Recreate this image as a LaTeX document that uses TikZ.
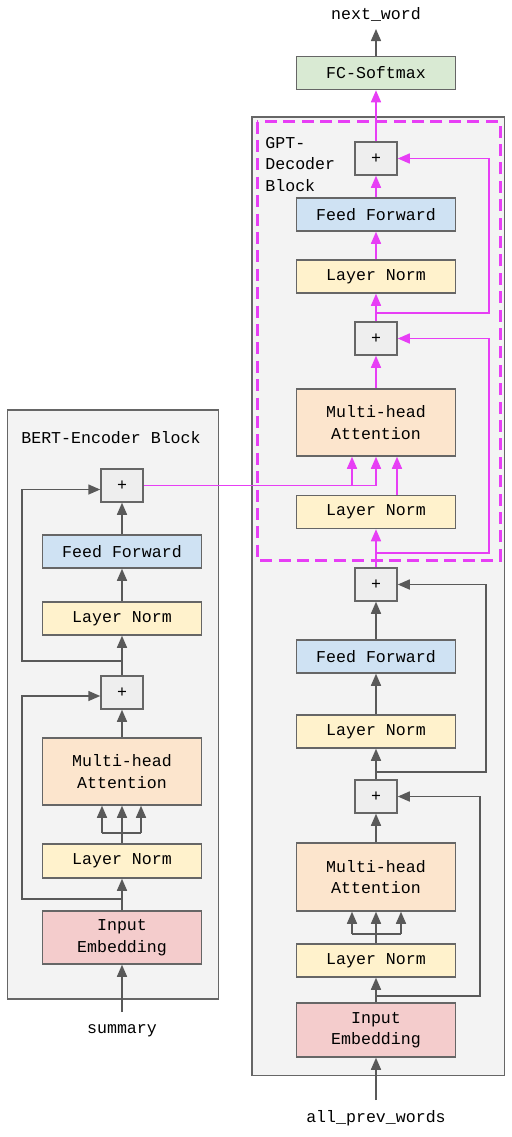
\documentclass[tikz,border=0pt]{standalone}
\usepackage{fontspec}
\setmonofont{Liberation Mono}
\usetikzlibrary{arrows.meta}
\definecolor{edge}{HTML}{595959}
\definecolor{boxline}{HTML}{666666}
\definecolor{panelfill}{HTML}{F3F3F3}
\definecolor{plusfill}{HTML}{EEEEEE}
\definecolor{ffblue}{HTML}{CFE2F3}
\definecolor{lnyellow}{HTML}{FFF2CC}
\definecolor{mhaorange}{HTML}{FCE5CD}
\definecolor{iepink}{HTML}{F4CCCC}
\definecolor{fcgreen}{HTML}{D9EAD3}
\definecolor{hotpink}{RGB}{231,62,245}
\begin{document}
\begin{tikzpicture}[x=0.5pt,y=-0.5pt,
	font=\ttfamily\fontsize{8.3}{10.7}\selectfont,
	panel/.style={draw=boxline,fill=panelfill,line width=0.8pt},
	box/.style={draw=boxline,line width=0.75pt,minimum width=79.7pt,minimum height=16.5pt,inner sep=0pt,align=center},
	sum/.style={box,fill=plusfill,minimum width=21pt},
	arr/.style={draw=edge,line width=0.75pt,-{Triangle[length=6pt,width=5pt]}},
	hot/.style={arr,draw=hotpink}]
	\useasboundingbox (0,0) rectangle (512,1137);
	\draw[panel] (7.3,410) rectangle (218.3,999);
	\draw[panel] (252,117) rectangle (504.5,1075.5);
	\draw[hotpink,line width=1.5pt,dash pattern=on 6pt off 3.2pt] (257,121.5) rectangle (500,560);
	\path (376,313) coordinate (s1)
	(376,553) coordinate (s2)
	(376,772) coordinate (s3)
	(376,996) coordinate (s4)
	(122,661) coordinate (s5)
	(122,899) coordinate (s6)
	(376,29) coordinate (out1)
	(376,1100) coordinate (in2)
	(122,1012) coordinate (in1);
	% decoder column
	\foreach \n/\y/\h/\c/\t in {FC/73/16.5/fcgreen/FC-Softmax,FF1/214.5/16.5/ffblue/Feed Forward,LN1/276.5/16.5/lnyellow/Layer Norm,MHA1/422.5/33.5/mhaorange/{Multi-head\\Attention},LN2/512/16.5/lnyellow/Layer Norm,FF2/656.5/16.5/ffblue/Feed Forward,LN3/731.5/16.5/lnyellow/Layer Norm,MHA2/877/34/mhaorange/{Multi-head\\Attention},LN4/960.5/16.5/lnyellow/Layer Norm,IE2/1030/27/iepink/{Input\\Embedding}}{
	\node[box,fill=\c,minimum height=\h pt] (\n) at (376,\y) {\t};
	}
	% encoder column
	\foreach \n/\y/\h/\c/\t in {FFA/551.5/16.5/ffblue/Feed Forward,LNA/618.5/16.5/lnyellow/Layer Norm,MHAB/771.5/33.5/mhaorange/{Multi-head\\Attention},LNB/861/17/lnyellow/Layer Norm,IEB/937.5/26.5/iepink/{Input\\Embedding}}{
	\node[box,fill=\c,minimum height=\h pt] (\n) at (122,\y) {\t};
	}
	\foreach \n/\x/\y in {plus1/376/158.5,plus2/376/338.5,plus3/376/584.5,plus4/376/796.5,plusA/122/485.5,plusB/122/692.5}{
	\node[sum] (\n) at (\x,\y) {+};
	}
	\node (nextw) at (376,14) {next\_word};
	\node (prevw) at (376,1118) {all\_prev\_words};
	\node (summ) at (122,1031) {summary};
	\node (bertlbl) at (111,437.5) {BERT-Encoder Block};
	\node[anchor=north west,align=left,inner sep=0pt] (gptlbl) at (265,137) {GPT-\\Decoder\\Block};
	% straight links
	\foreach \a/\b in {plus1/FC,FF1/plus1,LN1/FF1,plus2/LN1,MHA1/plus2,plus3/LN2}{
	\draw[hot] (\a) -- (\b);
	}
	\foreach \a/\b in {FC/out1,FF2/plus3,LN3/FF2,plus4/LN3,MHA2/plus4,IE2/LN4,in2/IE2,FFA/plusA,LNA/FFA,plusB/LNA,MHAB/plusB,IEB/LNB,in1/IEB}{
	\draw[arr] (\a) -- (\b);
	}
	% residual links
	\draw[hot] (s1) -- ++(113,0) |- (plus1.east);
	\draw[hot] (s2) -- ++(113,0) |- (plus2.east);
	\draw[arr] (s3) -- ++(110,0) |- (plus3.east);
	\draw[arr] (s4) -- ++(104,0) |- (plus4.east);
	\draw[arr] (s5) -| (22,489.5) -- (plusA.west |- 0,489.5);
	\draw[arr] (s6) -| (22,696) -- (plusB.west |- 0,696);
	% attention inputs
	\draw[edge,line width=0.75pt] (LN4.north) -- (376,934) (352,934) -- (401,934);
	\foreach \x in {352,376,401}{
	\draw[arr] (\x,934) -- (MHA2.south -| \x,0);
	}
	\draw[edge,line width=0.75pt] (LNB.north) -- (122,833) (102,833) -- (141,833);
	\foreach \x in {102,122,141}{
	\draw[arr] (\x,833) -- (MHAB.south -| \x,0);
	}
	\draw[hotpink,line width=0.75pt] (plusA.east) -- (376,485.5);
	\foreach \x in {352,376}{
	\draw[hot] (\x,485.5) -- (MHA1.south -| \x,0);
	}
	\draw[hot] (LN2.north -| 397,0) -- (MHA1.south -| 397,0);
\end{tikzpicture}
\end{document}
